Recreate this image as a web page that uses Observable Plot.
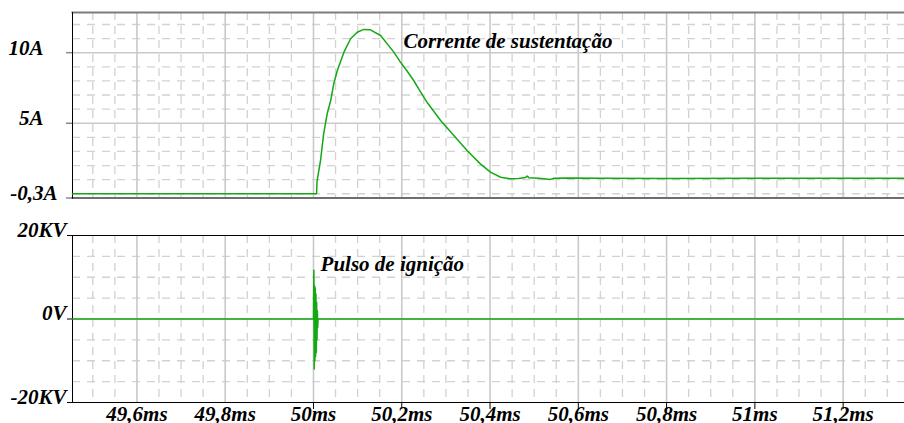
<!DOCTYPE html>
<html><head><meta charset="utf-8">
<script src="https://cdn.jsdelivr.net/npm/d3@7"></script>
<script src="https://cdn.jsdelivr.net/npm/@observablehq/plot@0.6"></script>
<style>
body{margin:0;background:#fff}
#chart svg{display:block}
</style>
</head><body><div id="chart"></div>
<script>
// ---- data ----
const timeMs = [49.454, 50.007, 50.008, 50.016, 50.023, 50.031, 50.039, 50.046, 50.054, 50.069, 50.084, 50.099, 50.114, 50.129, 50.152, 50.182, 50.197, 50.212, 50.227, 50.239, 50.258, 50.288, 50.318, 50.348, 50.378, 50.401, 50.424, 50.446, 50.465, 50.480, 50.484, 50.488, 50.510, 50.537, 50.545, 50.575, 50.650, 50.800, 51.000, 51.339];
const currentA = [0, 0, 0.87, 2.36, 4.25, 5.67, 6.61, 7.80, 8.74, 10.04, 10.99, 11.45, 11.65, 11.62, 11.22, 10.04, 9.33, 8.70, 8.03, 7.40, 6.45, 5.19, 4.13, 3.07, 2.12, 1.53, 1.17, 1.06, 1.08, 1.15, 1.25, 1.14, 1.10, 1.02, 1.10, 1.12, 1.10, 1.09, 1.10, 1.10];

const pulseTimeMs = [49.454, 50.0000, 50.0008, 50.0016, 50.0024, 50.0032, 50.0040, 50.0048, 50.0056, 50.0064, 50.0072, 50.0080, 50.0088, 50.0096, 50.0104, 51.339];
const pulseKV = [0, 0, 11.7, -12.0, 8.0, -10.0, 7.5, -9.0, 6.0, -8.0, 4.0, -5.0, 2.0, -2.0, 0, 0];

const xDomain = [49.454, 51.339];
const xTickValues = [49.6, 49.8, 50, 50.2, 50.4, 50.6, 50.8, 51, 51.2];
const xTickLabels = ["49,6ms", "49,8ms", "50ms", "50,2ms", "50,4ms", "50,6ms", "50,8ms", "51ms", "51,2ms"];
const xTickMarks = [50, 50.2, 50.4, 50.6, 50.8, 51, 51.2];

const currentDomain = [-0.3, 12.85];
const currentTickValues = [10, 5];
const currentTickLabels = ["10A", "5A"];
const currentMinValue = [-0.3];
const currentMinLabel = ["-0,3A"];
const currentMinor = [0, 1, 2, 3, 4, 6, 7, 8, 9, 11, 12];
const currentMajor = [5, 10];

const voltageDomain = [-20, 20];
const voltageTickValues = [20, 0, -20];
const voltageTickLabels = ["20KV", "0V", "-20KV"];
const voltageMinor = [-15, -10, -5, 5, 10, 15];
const voltageMajor = [0];

const currentAnnotation = [{t: 50.204, v: 10.3, text: "Corrente de sustentação"}];
const pulseAnnotation = [{t: 50.016, v: 11.4, text: "Pulso de ignição"}];

// ---- styles ----
const GREEN = "#14a814";
const MAJOR = "#c9c9c9";
const MINOR = "#d2d2d2";
const SERIF = "Liberation Serif, Times New Roman, Times, serif";
const FONT = {fontFamily: SERIF, fontWeight: "bold", fontStyle: "italic", fontSize: 21, fill: "black"};

const minorX = d3.range(990, 1027).filter(k => k % 4 !== 0).map(k => k * 0.05);
const majorX = xTickValues;

function grid(minorY, majorY) {
  return [
    Plot.ruleX(minorX, {stroke: MINOR, strokeWidth: 1.3, strokeDasharray: "8,6"}),
    Plot.ruleY(minorY, {stroke: MINOR, strokeWidth: 1.3, strokeDasharray: "8,7"}),
    Plot.ruleX(majorX, {stroke: MAJOR, strokeWidth: 1.6}),
    Plot.ruleY(majorY, {stroke: MAJOR, strokeWidth: 1.6})
  ];
}

const currentData = timeMs.map((t, i) => ({t, v: currentA[i]}));
const pulseData = pulseTimeMs.map((t, i) => ({t, v: pulseKV[i]}));

const topPlot = Plot.plot({
  width: 904, height: 215,
  marginLeft: 72, marginRight: 0, marginTop: 12, marginBottom: 17.5,
  style: {fontFamily: SERIF, overflow: "visible"},
  x: {domain: xDomain, axis: null},
  y: {domain: currentDomain},
  marks: [
    ...grid(currentMinor, currentMajor),
    Plot.axisY([...currentTickValues, ...currentMinValue], {tickSize: 6, stroke: "#8a8a8a", strokeWidth: 1.5, fill: "none", label: null}),
    Plot.frame({anchor: "top", stroke: "#7d7d7d", strokeWidth: 2}),
    Plot.frame({anchor: "bottom", stroke: "#6e6e6e", strokeWidth: 2}),
    Plot.frame({anchor: "left", stroke: "black", strokeWidth: 1}),
    Plot.line(currentData, {x: "t", y: "v", stroke: GREEN, strokeWidth: 1.5}),
    Plot.text(currentTickValues, {y: d => d, text: (d, i) => currentTickLabels[i], frameAnchor: "left", textAnchor: "end", lineAnchor: "bottom", dx: -29, dy: 2, ...FONT}),
    Plot.text(currentMinValue, {y: d => d, text: (d, i) => currentMinLabel[i], frameAnchor: "left", textAnchor: "end", lineAnchor: "bottom", dx: -15, dy: 2, ...FONT}),
    Plot.text(currentAnnotation, {x: "t", y: "v", text: "text", textAnchor: "start", lineAnchor: "bottom", ...FONT})
  ]
});

const bottomPlot = Plot.plot({
  width: 904, height: 208,
  marginLeft: 72, marginRight: 0, marginTop: 20, marginBottom: 21,
  style: {fontFamily: SERIF, overflow: "visible"},
  x: {domain: xDomain},
  y: {domain: voltageDomain},
  marks: [
    ...grid(voltageMinor, voltageMajor),
    Plot.axisY(voltageTickValues, {tickSize: 5, stroke: "black", fill: "none", label: null}),
    Plot.axisX(xTickMarks, {tickSize: 7, stroke: "black", fill: "none", label: null}),
    Plot.frame({anchor: "top", stroke: "black", strokeWidth: 1}),
    Plot.frame({anchor: "bottom", stroke: "black", strokeWidth: 1}),
    Plot.frame({anchor: "left", stroke: "black", strokeWidth: 1}),
    Plot.line(pulseData, {x: "t", y: "v", stroke: GREEN, strokeWidth: 1.5}),
    Plot.text(voltageTickValues, {y: d => d, text: (d, i) => voltageTickLabels[i], frameAnchor: "left", textAnchor: "end", lineAnchor: "bottom", dx: -6, dy: 1, ...FONT}),
    Plot.text(xTickValues, {x: d => d, text: (d, i) => xTickLabels[i], frameAnchor: "bottom", lineAnchor: "bottom", dy: 18, ...FONT}),
    Plot.text(pulseAnnotation, {x: "t", y: "v", text: "text", textAnchor: "start", lineAnchor: "bottom", ...FONT})
  ]
});

document.getElementById("chart").append(topPlot, bottomPlot);
</script>
</body></html>
